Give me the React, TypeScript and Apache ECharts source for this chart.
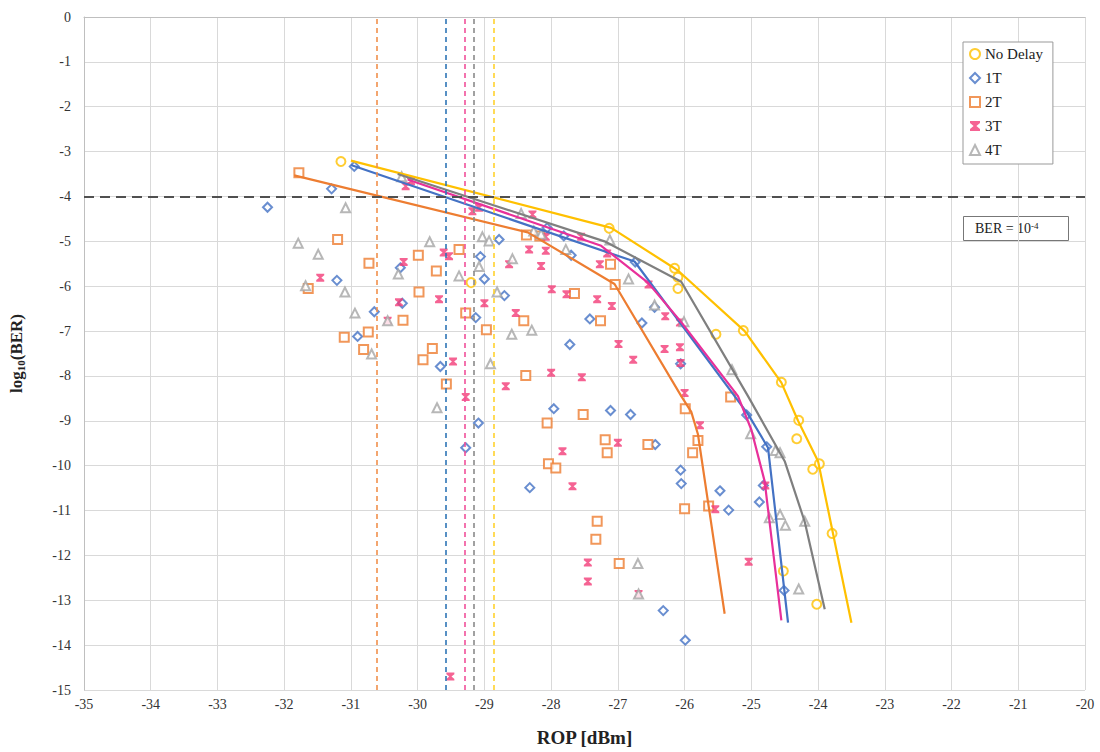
import React, { useEffect, useRef } from "react";
import * as echarts from "echarts";

const xTicks = { min: -35, max: -20, interval: 1 };
const yTicks = { min: -15, max: 0, interval: 1 };
const berLimit = -4;

const seriesNames = ["No Delay", "1T", "2T", "3T", "4T"];

const noDelayPts = [[-31.15,-3.22],[-29.2,-5.92],[-27.13,-4.71],[-26.15,-5.6],[-26.1,-5.8],[-26.1,-6.05],[-25.53,-7.07],[-25.12,-6.99],[-24.55,-8.14],[-24.29,-8.99],[-24.32,-9.4],[-24.08,-10.08],[-23.98,-9.96],[-23.79,-11.51],[-24.52,-12.35],[-24.02,-13.09]];
const oneTPts = [[-32.25,-4.24],[-31.29,-3.83],[-30.95,-3.33],[-31.21,-5.87],[-30.65,-6.57],[-30.9,-7.12],[-30.26,-5.59],[-30.23,-6.38],[-29.06,-5.34],[-29.0,-5.84],[-28.78,-4.96],[-28.7,-6.21],[-29.13,-6.7],[-29.66,-7.79],[-29.09,-9.05],[-29.28,-9.6],[-27.42,-6.73],[-26.64,-6.82],[-27.72,-7.3],[-26.06,-7.73],[-27.96,-8.73],[-27.11,-8.77],[-26.81,-8.86],[-26.44,-9.53],[-28.32,-10.49],[-26.06,-10.1],[-26.05,-10.4],[-25.47,-10.56],[-25.34,-10.99],[-26.32,-13.23],[-25.99,-13.89],[-24.88,-10.81],[-24.82,-10.44],[-24.77,-9.58],[-25.07,-8.87],[-24.51,-12.78],[-26.74,-5.46],[-26.45,-6.47],[-28.06,-4.7],[-27.81,-4.88],[-27.7,-5.31]];
const twoTPts = [[-31.78,-3.47],[-31.2,-4.96],[-31.64,-6.05],[-30.73,-5.49],[-31.1,-7.14],[-30.74,-7.02],[-30.81,-7.41],[-30.22,-6.76],[-29.98,-6.13],[-29.99,-5.31],[-29.72,-5.66],[-29.38,-5.18],[-29.78,-7.39],[-29.28,-6.6],[-28.97,-6.97],[-28.41,-6.77],[-28.37,-4.86],[-29.92,-7.64],[-29.57,-8.18],[-28.38,-7.99],[-27.26,-6.77],[-27.52,-8.86],[-28.06,-9.05],[-27.19,-9.42],[-27.16,-9.71],[-28.04,-9.96],[-27.93,-10.05],[-27.31,-11.24],[-27.33,-11.64],[-26.98,-12.18],[-25.99,-8.73],[-25.8,-9.44],[-25.88,-9.71],[-25.64,-10.9],[-26.0,-10.96],[-25.31,-8.47],[-27.04,-5.96],[-27.11,-5.51],[-28.17,-4.88],[-27.65,-6.16],[-26.55,-9.53]];
const threeTPts = [[-30.18,-3.77],[-30.1,-3.66],[-31.46,-5.81],[-30.21,-5.46],[-30.28,-6.36],[-30.45,-6.77],[-29.68,-6.29],[-29.61,-5.25],[-29.53,-5.33],[-29.18,-4.33],[-29.08,-4.25],[-29.0,-6.38],[-28.53,-6.6],[-28.63,-5.51],[-28.33,-5.18],[-29.47,-7.68],[-29.28,-8.47],[-28.68,-8.23],[-28.0,-7.93],[-27.54,-8.03],[-27.83,-9.68],[-27.68,-10.46],[-27.45,-12.16],[-27.45,-12.58],[-26.69,-12.86],[-27.31,-6.29],[-27.09,-6.44],[-26.99,-7.29],[-26.77,-7.64],[-27.0,-9.49],[-26.29,-6.67],[-26.3,-7.4],[-26.07,-7.36],[-26.06,-7.71],[-26.0,-8.38],[-25.77,-9.1],[-25.54,-10.97],[-26.07,-6.81],[-25.04,-12.14],[-28.28,-4.4],[-28.08,-4.9],[-28.08,-5.21],[-28.15,-5.55],[-27.99,-6.07],[-27.55,-4.9],[-27.16,-5.27],[-27.27,-5.51],[-27.77,-6.18],[-26.54,-5.96],[-24.79,-10.44],[-29.51,-14.7]];
const fourTPts = [[-31.79,-5.04],[-31.49,-5.29],[-31.68,-5.99],[-31.08,-4.25],[-31.09,-6.13],[-30.94,-6.6],[-30.29,-5.73],[-30.45,-6.77],[-30.69,-7.51],[-30.24,-3.56],[-29.82,-5.01],[-29.38,-5.77],[-29.08,-5.56],[-29.03,-4.9],[-28.93,-4.99],[-28.81,-6.13],[-28.58,-5.39],[-28.59,-7.07],[-29.71,-8.71],[-28.91,-7.73],[-28.29,-6.98],[-26.45,-6.42],[-26.01,-6.79],[-25.29,-7.86],[-26.7,-12.18],[-26.69,-12.86],[-28.45,-4.38],[-28.26,-4.77],[-28.15,-4.84],[-27.78,-5.18],[-27.12,-4.97],[-26.84,-5.84],[-25.01,-9.29],[-24.64,-9.66],[-24.57,-9.71],[-24.73,-11.16],[-24.57,-11.09],[-24.49,-11.33],[-24.2,-11.24],[-24.29,-12.75]];

const noDelayFit = [[-31.0,-3.2],[-27.1,-4.7],[-26.1,-5.65],[-25.1,-7.0],[-24.55,-8.15],[-24.3,-9.0],[-24.0,-9.9],[-23.5,-13.5]];
const oneTFit = [[-31.0,-3.3],[-26.75,-5.45],[-25.05,-8.85],[-24.75,-9.6],[-24.45,-13.5]];
const twoTFit = [[-31.85,-3.53],[-28.35,-4.8],[-27.05,-5.95],[-26.05,-8.45],[-25.9,-8.8],[-25.8,-9.3],[-25.4,-13.3]];
const threeTFit = [[-30.15,-3.62],[-27.25,-5.1],[-26.55,-5.92],[-26.05,-6.8],[-25.2,-8.45],[-25.0,-9.2],[-24.8,-10.35],[-24.55,-13.45]];
const fourTFit = [[-30.3,-3.5],[-27.2,-5.0],[-26.05,-5.9],[-25.05,-8.45],[-24.5,-9.9],[-24.2,-11.25],[-23.9,-13.2]];

// sensitivity thresholds at BER = 1e-4 (vertical dashed lines)
const thresholdNoDelay = -28.86;
const threshold1T = -29.58;
const threshold2T = -30.61;
const threshold3T = -29.3;
const threshold4T = -29.16;

const FONT = "'Liberation Serif', 'DejaVu Serif', serif";
const C_YEL = "#FFC000";
const C_BLU = "#4472C4";
const C_ORA = "#ED7D31";
const C_PNK = "#F23C78";
const C_GRY = "#A5A5A5";

const starPath = "path://M0,0 H10 V2 L6.4,5 L10,8 V10 H0 V8 L3.6,5 L0,2 Z";

function vLine(x: number, color: string) {
  return {
    silent: true,
    symbol: ["none", "none"],
    label: { show: false },
    lineStyle: { color, type: [5, 4], width: 1.6 },
    data: [{ xAxis: x }],
  };
}

export default function App() {
  const ref = useRef<HTMLDivElement>(null);
  useEffect(() => {
    document.body.style.margin = "0";
    const chart = echarts.init(ref.current!, null, { renderer: "svg" });
    const scatter = (name: string, data: number[][], symbol: string, color: string, size: number, extra: any = {}) => ({
      name,
      type: "scatter",
      data,
      symbol,
      symbolSize: size,
      itemStyle: { color, borderWidth: 1.2, ...(extra.itemStyle || {}) },
      z: 3,
    });
    const fit = (data: number[][], color: string, markLine?: any) => ({
      type: "line",
      data,
      showSymbol: false,
      symbol: "none",
      lineStyle: { color, width: 2.2 },
      z: 4,
      silent: true,
      ...(markLine ? { markLine } : {}),
    });
    chart.setOption({
      animation: false,
      backgroundColor: "#fff",
      grid: { left: 83, top: 17, width: 1002, height: 675, containLabel: false },
      xAxis: {
        type: "value",
        min: xTicks.min,
        max: xTicks.max,
        interval: xTicks.interval,
        name: "ROP [dBm]",
        nameLocation: "middle",
        nameGap: 38,
        nameTextStyle: { fontFamily: FONT, fontSize: 19, fontWeight: "bold", color: "#222" },
        axisLine: { lineStyle: { color: "#BFBFBF" } },
        axisTick: { show: false },
        axisLabel: { fontFamily: FONT, fontSize: 14, color: "#333", margin: 7 },
        splitLine: { lineStyle: { color: "#D9D9D9", width: 1 } },
      },
      yAxis: {
        type: "value",
        min: yTicks.min,
        max: yTicks.max,
        interval: yTicks.interval,
        name: "log{sub|10}(BER)",
        nameLocation: "middle",
        nameGap: 58,
        nameRotate: 90,
        nameTextStyle: {
          fontFamily: FONT,
          fontSize: 17,
          fontWeight: "bold",
          color: "#222",
          rich: { sub: { fontFamily: FONT, fontSize: 11, fontWeight: "bold", color: "#222", verticalAlign: "bottom", padding: [8, 0, 0, 0] } },
        },
        axisLine: { show: true, lineStyle: { color: "#BFBFBF" } },
        axisTick: { show: false },
        axisLabel: { fontFamily: FONT, fontSize: 14, color: "#333", margin: 13 },
        splitLine: { showMaxLine: false, lineStyle: { color: "#D9D9D9", width: 1 } },
      },
      legend: {
        data: seriesNames,
        orient: "vertical",
        left: 963,
        top: 42,
        itemWidth: 10,
        itemHeight: 10,
        itemGap: 8,
        padding: [4, 10, 6, 6],
        borderColor: "#999",
        borderWidth: 1,
        backgroundColor: "#fff",
        textStyle: { fontFamily: FONT, fontSize: 15, color: "#222", lineHeight: 16 },
      },
      graphic: [
        {
          type: "group",
          left: 963,
          top: 216,
          children: [
            { type: "rect", shape: { x: 0.5, y: 0.5, width: 105, height: 24 }, style: { fill: "#fff", stroke: "#777", lineWidth: 1 } },
            {
              type: "text",
              x: 12,
              y: 5,
              style: {
                text: "BER = 10{sup|-4}",
                fontFamily: FONT,
                fontSize: 14,
                fill: "#222",
                rich: { sup: { fontFamily: FONT, fontSize: 9, fill: "#222", verticalAlign: "top", padding: [0, 0, 6, 0] } },
              },
            },
          ],
        },
      ],
      series: [
        fit(noDelayFit, C_YEL, vLine(thresholdNoDelay, "#FFD22E")),
        fit(oneTFit, C_BLU, vLine(threshold1T, "#2E75B6")),
        fit(twoTFit, C_ORA, vLine(threshold2T, "#F0904C")),
        fit(threeTFit, "#E8309A", vLine(threshold3T, "#F0509A")),
        fit(fourTFit, "#7F7F7F", {
          silent: true,
          symbol: ["none", "none"],
          label: { show: false },
          data: [
            { xAxis: threshold4T, lineStyle: { color: "#8A8A8A", type: [5, 4], width: 1.6 } },
            { yAxis: berLimit, lineStyle: { color: "#505050", type: [10, 6], width: 2 } },
          ],
        }),
        scatter(seriesNames[0], noDelayPts, "emptyCircle", C_YEL, 9),
        scatter(seriesNames[1], oneTPts, "emptyDiamond", C_BLU, 9),
        scatter(seriesNames[2], twoTPts, "emptyRect", C_ORA, 9),
        scatter(seriesNames[3], threeTPts, starPath, C_PNK, 8, { itemStyle: { borderWidth: 0 } }),
        scatter(seriesNames[4], fourTPts, "emptyTriangle", C_GRY, 9),
      ],
    });
    return () => chart.dispose();
  }, []);
  return <div ref={ref} style={{ width: 1100, height: 752 }} />;
}
